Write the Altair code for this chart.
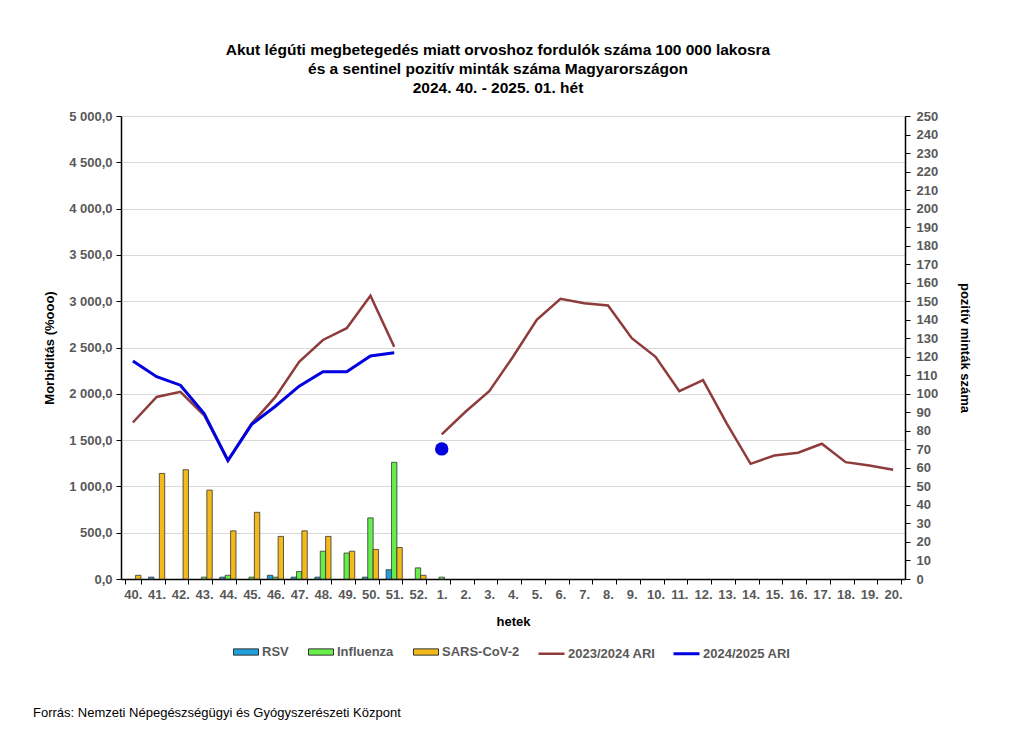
import altair as alt
import pandas as pd

FONT = "Liberation Sans"

weeks = ["40.", "41.", "42.", "43.", "44.", "45.", "46.", "47.", "48.", "49.", "50.", "51.", "52.",
         "1.", "2.", "3.", "4.", "5.", "6.", "7.", "8.", "9.", "10.", "11.", "12.", "13.", "14.",
         "15.", "16.", "17.", "18.", "19.", "20."]

# positive sentinel samples (right axis), weeks 40. - 1.
bar_weeks = weeks[:14]
rsv = [0, 1, 0, 0, 1, 0, 2, 1, 1, 0, 1, 5, 0, 0]
influenza = [0, 0, 0, 1, 2, 1, 1, 4, 15, 14, 33, 63, 6, 1]
sars_cov_2 = [2, 57, 59, 48, 26, 36, 23, 26, 23, 15, 16, 17, 2, 0]

# ARI morbidity per 100 000 (left axis)
ari_2324 = [1690, 1966, 2021, 1768, 1280, 1678, 1966, 2346, 2581, 2708, 3059, 2509, None,
            1562, 1806, 2028, 2400, 2798, 3026, 2979, 2954, 2600, 2400, 2028, 2147, 1678,
            1244, 1334, 1363, 1461, 1262, 1226, 1179]
ari_2425 = [2354, 2184, 2093, 1786, 1280, 1670, 1866, 2082, 2238, 2238, 2408, 2444, None,
            1405] + [None] * 19

bar_series = ["RSV", "Influenza", "SARS-CoV-2"]
bar_colors = ["#1FA0DA", "#66EE4A", "#F4B91A"]
line_series = ["2023/2024 ARI", "2024/2025 ARI"]
line_colors = ["#8E3B3B", "#0000E0"]
source_text = "Forrás: Nemzeti Népegészségügyi és Gyógyszerészeti Központ"

# ---- tables ----
bar_rows = []
for s, vals in zip(bar_series, [rsv, influenza, sars_cov_2]):
    for w, v in zip(bar_weeks, vals):
        if v > 0:
            bar_rows.append({"week": w, "series": s, "value": v})
bars_df = pd.DataFrame(bar_rows)

line_rows, dot_rows = [], []
for s, vals in zip(line_series, [ari_2324, ari_2425]):
    seg = 0
    for i, (w, v) in enumerate(zip(weeks, vals)):
        if v is None:
            seg += 1
            continue
        line_rows.append({"week": w, "series": s, "value": v, "seg": f"{s}-{seg}"})
        prev_none = i == 0 or vals[i - 1] is None
        next_none = i == len(vals) - 1 or vals[i + 1] is None
        if prev_none and next_none:
            dot_rows.append({"week": w, "series": s, "value": v})
lines_df = pd.DataFrame(line_rows)
dot_df = pd.DataFrame(dot_rows)
src_df = pd.DataFrame({"t": [source_text]})

left_fmt = "replace(replace(format(datum.value, ',.1f'), ',', ' '), '.', ',')"

x_enc = alt.X(
    "week:N",
    sort=weeks,
    scale=alt.Scale(domain=weeks, paddingInner=0.32, paddingOuter=0.16),
    axis=alt.Axis(title="hetek", labelAngle=0, tickBand="extent", grid=False,
                  tickSize=5, labelPadding=4, titlePadding=14, domainWidth=1.5),
)

bars = alt.Chart(bars_df).mark_bar(stroke="#333333", strokeWidth=0.8).encode(
    x=x_enc,
    xOffset=alt.XOffset("series:N", sort=bar_series,
                        scale=alt.Scale(domain=bar_series, paddingInner=0, paddingOuter=0)),
    y=alt.Y("value:Q", scale=alt.Scale(domain=[0, 250], nice=False),
            axis=alt.Axis(orient="right", title="pozitív minták száma",
                          values=list(range(0, 251, 10)), grid=False, tickSize=5,
                          labelPadding=6, titlePadding=20, domainWidth=1.5)),
    fill=alt.Fill("series:N", sort=bar_series,
                  scale=alt.Scale(domain=bar_series, range=bar_colors),
                  legend=alt.Legend(title=None, orient="none", direction="horizontal",
                                    legendX=112, legendY=523, columns=3,
                                    symbolType="M-1,-0.25H1V0.25H-1Z", symbolSize=625,
                                    symbolStrokeColor="#333333", symbolStrokeWidth=1,
                                    labelOffset=3, columnPadding=17, padding=0)),
)

lines = alt.Chart(lines_df).mark_line().encode(
    x=x_enc,
    y=alt.Y("value:Q", scale=alt.Scale(domain=[0, 5000], nice=False),
            axis=alt.Axis(orient="left", title="Morbiditás (%ooo)",
                          values=list(range(0, 5001, 500)), labelExpr=left_fmt,
                          grid=True, gridColor="#D9D9D9", tickSize=5,
                          labelPadding=4, titlePadding=12, domainWidth=1.5)),
    stroke=alt.Stroke("series:N", sort=line_series,
                      scale=alt.Scale(domain=line_series, range=line_colors),
                      legend=alt.Legend(title=None, orient="none", direction="horizontal",
                                        legendX=416, legendY=523, columns=2,
                                        symbolType="stroke", symbolSize=676,
                                        symbolStrokeWidth=3, labelOffset=2,
                                        columnPadding=11, padding=0)),
    strokeWidth=alt.StrokeWidth("series:N", scale=alt.Scale(domain=line_series, range=[2.5, 3]),
                                legend=None),
    detail="seg:N",
)

dots = alt.Chart(dot_df).mark_circle(size=180, opacity=1).encode(
    x=x_enc,
    y=alt.Y("value:Q", scale=alt.Scale(domain=[0, 5000], nice=False), axis=None),
    color=alt.Color("series:N", scale=alt.Scale(domain=line_series, range=line_colors),
                    legend=None),
)

source = alt.Chart(src_df).mark_text(align="left", baseline="middle", fontSize=13,
                                      font=FONT, color="black").encode(
    x=alt.value(-88), y=alt.value(597), text="t:N"
)

chart = alt.layer(bars, lines, dots, source).resolve_scale(
    y="independent", color="independent"
).properties(
    width=784,
    height=463,
    autosize=alt.AutoSizeParams(type="none"),
    padding={"left": 113, "top": 108, "right": 90, "bottom": 150},
    title=alt.TitleParams(
        text=["Akut légúti megbetegedés miatt orvoshoz fordulók száma 100 000 lakosra",
              "és a sentinel pozitív minták száma Magyarországon",
              "2024. 40. - 2025. 01. hét"],
        fontSize=15.5, fontWeight="bold", font=FONT, color="black",
        anchor="middle", lineHeight=19, offset=14, dx=-15,
    ),
).configure_axis(
    labelFont=FONT, titleFont=FONT, labelFontSize=13, labelFontWeight="bold",
    labelColor="#595959", titleFontSize=13, titleFontWeight="bold", titleColor="black",
    domainColor="black", tickColor="black",
).configure_legend(
    labelFont=FONT, labelFontSize=13, labelFontWeight="bold", labelColor="#595959",
).configure_view(strokeWidth=0)

chart.save("out.html", embed_options={"renderer": "svg", "actions": False})
